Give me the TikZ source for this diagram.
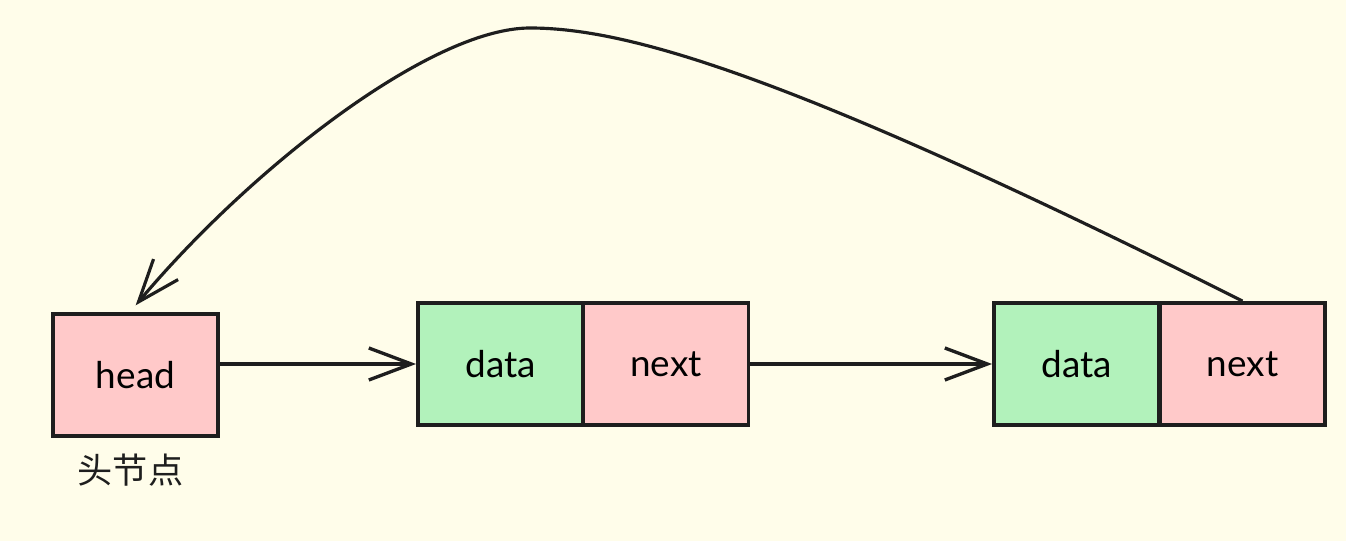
\documentclass[tikz,border=0pt]{standalone}
\usepackage{fontspec}
\setmainfont{Lato}
\newfontfamily\cjk{Noto Sans CJK SC}
\usetikzlibrary{arrows.meta,positioning}
\definecolor{bgcream}{HTML}{FFFDEA}
\definecolor{cellpink}{HTML}{FFC9C9}
\definecolor{cellgreen}{HTML}{B2F2BB}
\definecolor{ink}{HTML}{1E1E1E}
\tikzset{
  cell/.style={draw=ink, line width=2.2pt, minimum width=3.3cm, minimum height=2.44cm, inner sep=0pt, font=\fontsize{21}{25}\selectfont},
  ptr/.style={draw=ink, line width=1.9pt, -{Straight Barb[length=8.5mm,width=6.4mm]}},
}
\begin{document}
\begin{tikzpicture}
\useasboundingbox[fill=bgcream] (0,0) rectangle (26.92,10.82);
\node[cell, fill=cellpink] (h) at (2.71,3.32) {head};
\node[cell, fill=cellgreen] (d1) at (10.01,3.54) {data};
\node[cell, fill=cellpink] (n1) at (13.32,3.54) {next};
\node[cell, fill=cellgreen] (d2) at (21.53,3.54) {data};
\node[cell, fill=cellpink] (n2) at (24.85,3.54) {next};
\node[font=\cjk\fontsize{20}{24}\selectfont, text=ink] (hl) [below=2mm of h, xshift=-1mm] {头节点};
\coordinate (top) at (10.6,10.26);
\draw [ptr] (h.east |- d1.west) -- (d1.west);
\draw [ptr] (n1.east) -- (d2.west);
\draw [ptr, line width=1.8pt, shorten >=5pt] (n2.north) .. controls (15.96,9.26) and (12.6,10.26) .. (top)
  .. controls (8.6,10.26) and (4.98,7.42) .. ([xshift=-1.1mm]h.north);
\end{tikzpicture}
\end{document}
